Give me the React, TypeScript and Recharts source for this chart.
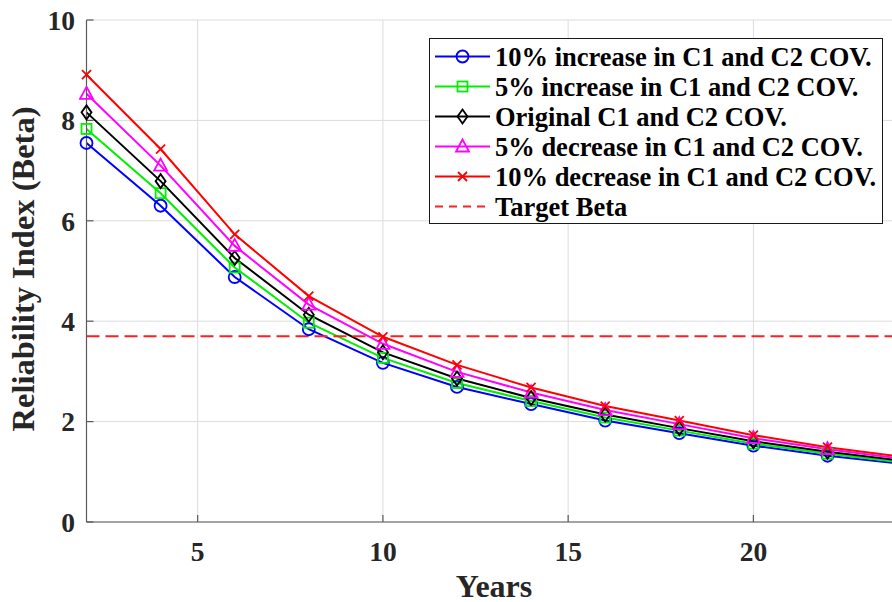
import React from 'react';
import { LineChart, Line, XAxis, YAxis, CartesianGrid, Legend } from 'recharts';

// Reliability index over service life for varying C1/C2 coefficients of variation
const YEARS = [2, 4, 6, 8, 10, 12, 14, 16, 18, 20, 22, 24];
const INC_10 = [7.55, 6.3, 4.88, 3.84, 3.17, 2.69, 2.35, 2.02, 1.77, 1.52, 1.32, 1.16];
const INC_5 = [7.83, 6.55, 5.07, 3.97, 3.27, 2.77, 2.41, 2.08, 1.82, 1.56, 1.36, 1.19];
const ORIGINAL = [8.16, 6.79, 5.26, 4.13, 3.38, 2.86, 2.47, 2.14, 1.87, 1.61, 1.4, 1.22];
const DEC_5 = [8.53, 7.1, 5.5, 4.33, 3.55, 2.99, 2.58, 2.23, 1.95, 1.67, 1.45, 1.26];
const DEC_10 = [8.91, 7.43, 5.73, 4.5, 3.69, 3.13, 2.68, 2.31, 2.02, 1.73, 1.49, 1.3];
const TARGET_BETA = 3.7;

const X_TICKS = [5, 10, 15, 20];
const Y_TICKS = [0, 2, 4, 6, 8, 10];

type MarkerShape = 'circle' | 'square' | 'diamond' | 'triangle' | 'cross' | 'none';

interface SeriesDef {
  key: string;
  name: string;
  color: string;
  marker: MarkerShape;
  dashed?: boolean;
}

const SERIES: SeriesDef[] = [
  { key: 'inc10', name: '10% increase in C1 and C2 COV.', color: '#0000ff', marker: 'circle' },
  { key: 'inc5', name: '5% increase in C1 and C2 COV.', color: '#00ee00', marker: 'square' },
  { key: 'orig', name: 'Original C1 and C2 COV.', color: '#000000', marker: 'diamond' },
  { key: 'dec5', name: '5% decrease in C1 and C2 COV.', color: '#ff00ff', marker: 'triangle' },
  { key: 'dec10', name: '10% decrease in C1 and C2 COV.', color: '#ff0000', marker: 'cross' },
  { key: 'target', name: 'Target Beta', color: '#ff2020', marker: 'none', dashed: true },
];

const rows = YEARS.map((year, i) => ({
  year,
  inc10: INC_10[i],
  inc5: INC_5[i],
  orig: ORIGINAL[i],
  dec5: DEC_5[i],
  dec10: DEC_10[i],
  target: TARGET_BETA,
}));

const FONT = "'Liberation Serif', 'Times New Roman', serif";
const AXIS_COLOR = '#5a5a5a';
const TEXT_COLOR = '#262626';

function Marker({ shape, cx, cy, color }: { shape: MarkerShape; cx: number; cy: number; color: string }) {
  const common = { fill: 'none', stroke: color, strokeWidth: 1.8 };
  switch (shape) {
    case 'circle':
      return <circle cx={cx} cy={cy} r={6} {...common} />;
    case 'square':
      return <rect x={cx - 5} y={cy - 5} width={10} height={10} {...common} />;
    case 'diamond':
      return <polygon points={`${cx},${cy - 7} ${cx + 5},${cy} ${cx},${cy + 7} ${cx - 5},${cy}`} {...common} />;
    case 'triangle':
      return <polygon points={`${cx},${cy - 7} ${cx + 6.5},${cy + 5} ${cx - 6.5},${cy + 5}`} {...common} />;
    case 'cross':
      return (
        <path
          d={`M${cx - 4.5},${cy - 4.5}L${cx + 4.5},${cy + 4.5}M${cx + 4.5},${cy - 4.5}L${cx - 4.5},${cy + 4.5}`}
          {...common}
        />
      );
    default:
      return null;
  }
}

// Legend entries follow the plotting order of SERIES
const renderLegend = () => (
  <svg width={455} height={187} style={{ display: 'block' }}>
    <rect x={0.5} y={0.5} width={453} height={185} fill="#ffffff" stroke="#1a1a1a" strokeWidth={1} />
    {SERIES.map((s, i) => {
      const cy = 18.5 + i * 30;
      return (
        <g key={s.key}>
          <line
            x1={6}
            x2={61}
            y1={cy}
            y2={cy}
            stroke={s.color}
            strokeWidth={2}
            strokeDasharray={s.dashed ? '8 6' : undefined}
          />
          <Marker shape={s.marker} cx={33.5} cy={cy} color={s.color} />
          <text x={66} y={cy + 9} fontFamily={FONT} fontWeight="bold" fontSize={26.5} fill="#000000">
            {s.name}
          </text>
        </g>
      );
    })}
  </svg>
);

export default function App() {
  return (
    <div
      style={{
        position: 'absolute',
        left: 0,
        top: 0,
        width: 892,
        height: 602,
        overflow: 'hidden',
        background: '#ffffff',
      }}
    >
      <LineChart width={910} height={602} data={rows} margin={{ top: 20, right: 8.4, bottom: 0, left: 85.5 }}>
        <CartesianGrid stroke="#dcdcdc" strokeWidth={1} />
        <XAxis
          dataKey="year"
          type="number"
          domain={[2, 24]}
          ticks={X_TICKS}
          height={80}
          tickSize={-7}
          tickMargin={26.5}
          stroke={AXIS_COLOR}
          strokeWidth={1.2}
          tick={{ fontFamily: FONT, fontWeight: 'bold', fontSize: 27.5, fill: TEXT_COLOR }}
          label={{
            content: ({ viewBox }: any) => (
              <text
                x={viewBox.x + viewBox.width / 2}
                y={viewBox.y + 74.5}
                textAnchor="middle"
                fontFamily={FONT}
                fontWeight="bold"
                fontSize={32}
                fill={TEXT_COLOR}
              >
                Years
              </text>
            ),
          }}
        />
        <XAxis
          xAxisId="top"
          orientation="top"
          dataKey="year"
          type="number"
          domain={[2, 24]}
          ticks={X_TICKS}
          height={0}
          tickSize={-7}
          tick={false}
          stroke={AXIS_COLOR}
          strokeWidth={1.2}
        />
        <YAxis
          type="number"
          domain={[0, 10]}
          ticks={Y_TICKS}
          width={1}
          tickSize={-7}
          tickMargin={18.5}
          stroke={AXIS_COLOR}
          strokeWidth={1.2}
          tick={{ fontFamily: FONT, fontWeight: 'bold', fontSize: 27.5, fill: TEXT_COLOR }}
          label={{
            content: ({ viewBox }: any) => {
              const x = 33.5;
              const y = viewBox.y + viewBox.height / 2 - 2;
              return (
                <text
                  x={x}
                  y={y}
                  transform={`rotate(-90, ${x}, ${y})`}
                  textAnchor="middle"
                  fontFamily={FONT}
                  fontWeight="bold"
                  fontSize={32.5}
                  fill={TEXT_COLOR}
                >
                  Reliability Index (Beta)
                </text>
              );
            },
          }}
        />
        {SERIES.map((s) => (
          <Line
            key={s.key}
            dataKey={s.key}
            name={s.name}
            type="linear"
            stroke={s.color}
            strokeWidth={2}
            strokeDasharray={s.dashed ? '13 6' : undefined}
            isAnimationActive={false}
            activeDot={false}
            dot={
              s.marker === 'none'
                ? false
                : (p: any) => <Marker key={`${s.key}-${p.index}`} shape={s.marker} cx={p.cx} cy={p.cy} color={s.color} />
            }
          />
        ))}
        <Legend
          layout="horizontal"
          verticalAlign="middle"
          align="center"
          content={renderLegend}
          wrapperStyle={{ left: 429, top: 38, width: 455, height: 187 }}
        />
      </LineChart>
    </div>
  );
}
